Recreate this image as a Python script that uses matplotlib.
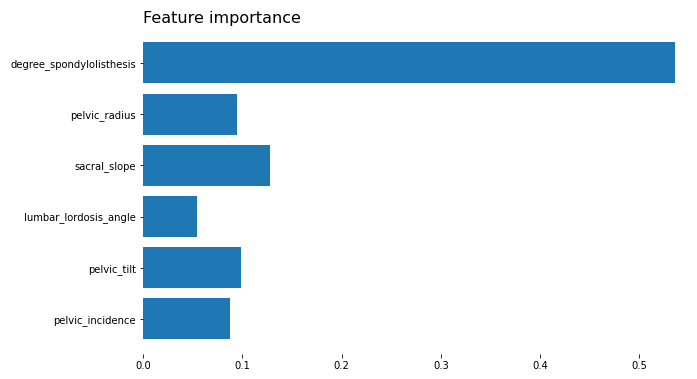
import matplotlib
matplotlib.use("Agg")
import matplotlib.pyplot as plt

features = ["pelvic_incidence", "pelvic_tilt", "lumbar_lordosis_angle",
            "sacral_slope", "pelvic_radius", "degree_spondylolisthesis"]
importances = [0.0876, 0.0987, 0.0544, 0.1279, 0.0947, 0.536]
xticks = [0.0, 0.1, 0.2, 0.3, 0.4, 0.5]

fig = plt.figure(figsize=(697/72, 379/72), dpi=72)
ax = fig.add_axes([143/697, 1-354.3/379, (675-143)/697, (354.3-27.5)/379])
ax.barh(range(len(features)), importances, height=0.8, color="#1f77b4")
ax.set_yticks(range(len(features)))
ax.set_yticklabels(features, fontsize=10)
ax.set_xticks(xticks)
ax.set_xticklabels([f"{t:.1f}" for t in xticks], fontsize=10)
ax.set_xlim(0, max(importances))
for s in ax.spines.values():
    s.set_visible(False)
ax.set_title("Feature importance", loc="left", fontsize=16, pad=5)
fig.savefig("out.png", dpi=72)
